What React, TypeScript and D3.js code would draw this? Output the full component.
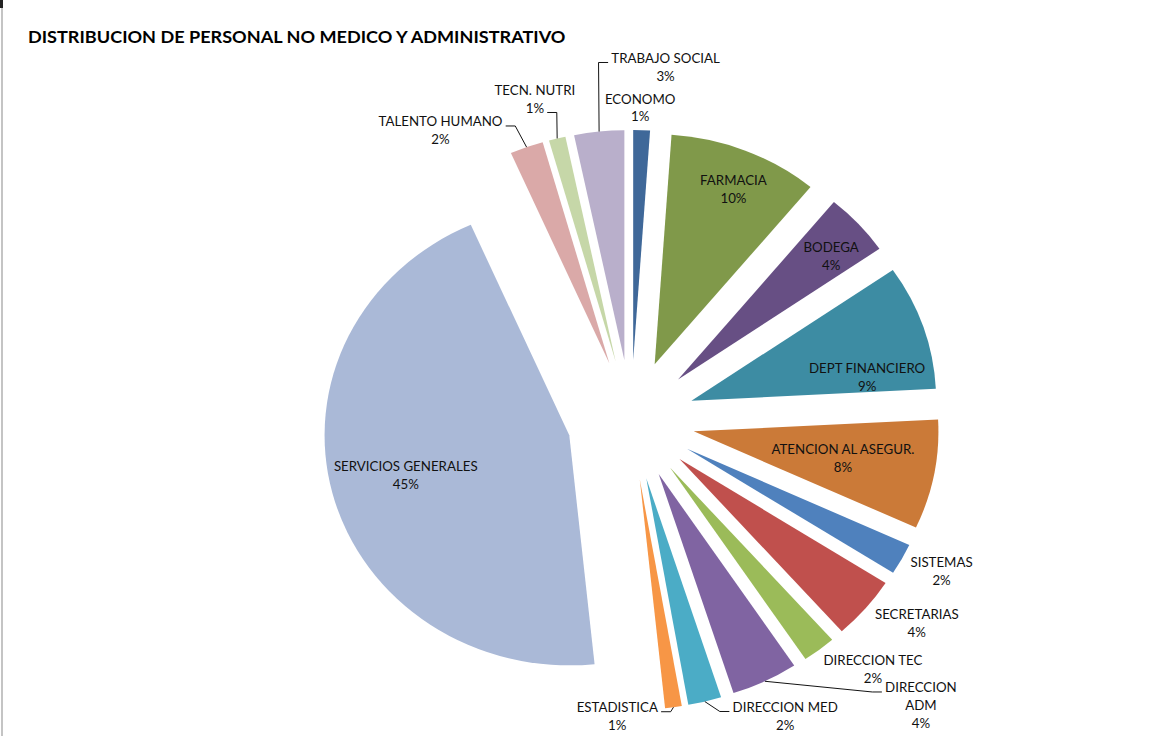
import React, { useRef, useEffect } from "react";
import * as d3 from "d3";

// personal counts per area, clockwise from 12 o'clock
const categories = [
  "ECONOMO",
  "FARMACIA",
  "BODEGA",
  "DEPT FINANCIERO",
  "ATENCION AL ASEGUR.",
  "SISTEMAS",
  "SECRETARIAS",
  "DIRECCION TEC",
  "DIRECCION ADM",
  "DIRECCION MED",
  "ESTADISTICA",
  "SERVICIOS GENERALES",
  "TALENTO HUMANO",
  "TECN. NUTRI",
  "TRABAJO SOCIAL",
];
const counts = [1, 9, 4, 8, 7, 2, 4, 2, 4, 2, 1, 41, 2, 1, 3];
const colors = [
  "#3F6899",
  "#80994A",
  "#674F84",
  "#3D8CA3",
  "#CB7A38",
  "#4F81BD",
  "#C0504D",
  "#9BBB59",
  "#8064A2",
  "#4BACC6",
  "#F79646",
  "#AAB9D7",
  "#DAA9A8",
  "#C6D7A8",
  "#B9AFCB",
];

const TITLE = "DISTRIBUCION DE PERSONAL NO MEDICO Y ADMINISTRATIVO";

// label placement: radius from pie centre and angle shift (deg) from the slice bisector
interface LabelPos {
  r: number;
  da: number;
  wrap?: boolean;
  leader?: { side: number; line: number };
}
const labelLayout: LabelPos[] = [
  { r: 312, da: -0.4 },
  { r: 250, da: 0.9 },
  { r: 249, da: 1.6 },
  { r: 226, da: 7.9 },
  { r: 203, da: 0.2 },
  { r: 329, da: -1.2 },
  { r: 337, da: -3.4 },
  { r: 338, da: -4.7 },
  { r: 395, da: -17.9, wrap: true, leader: { side: 1, line: 0 } },
  { r: 330, da: -12.2, leader: { side: 1, line: 0 } },
  { r: 297, da: 10.4, leader: { side: -1, line: 0 } },
  { r: 219, da: 0 },
  { r: 340, da: -12, leader: { side: -1, line: 0 } },
  { r: 333, da: -1.9, leader: { side: -1, line: 1 } },
  { r: 354, da: 11.2, leader: { side: 1, line: 0 } },
];

const W = 1167;
const H = 736;
const SX = 1.064; // the original picture is a little wider than tall
const FONT = "Lato, 'Open Sans', sans-serif";

const ExplodedPie = () => {
  const ref = useRef<SVGSVGElement | null>(null);

  useEffect(() => {
    document.body.style.margin = "0";
    if (!ref.current) return;
    const svg = d3.select(ref.current);
    svg.selectAll("*").remove();

    const cx = 631;
    const cy = 420;
    const radius = 230;
    const explode = 60;
    const lineH = 18;
    const total = d3.sum(counts);

    // frame
    svg.append("rect").attr("x", 1.5).attr("y", 0).attr("width", 1).attr("height", H).attr("fill", "#8a8a8a");
    svg.append("rect").attr("x", 0).attr("y", 0).attr("width", 3).attr("height", 8).attr("fill", "#222");

    svg
      .append("g")
      .attr("transform", `scale(${SX},1)`)
      .append("text")
      .attr("x", 28 / SX)
      .attr("y", 43)
      .attr("font-family", FONT)
      .attr("font-weight", "bold")
      .attr("font-size", 17)
      .attr("fill", "#000")
      .text(TITLE);

    const g = svg.append("g").attr("transform", `translate(${cx},${cy}) scale(${SX},1)`);

    const pie = d3
      .pie<number>()
      .sort(null)
      .value((d) => d)
      .startAngle(0)
      .endAngle(2 * Math.PI);
    const arcs = pie(counts);

    const arc = d3.arc<d3.PieArcDatum<number>>().innerRadius(0).outerRadius(radius);
    const polar = (r: number, a: number): [number, number] => [r * Math.sin(a), -r * Math.cos(a)];
    const mid = (d: d3.PieArcDatum<number>) => (d.startAngle + d.endAngle) / 2;

    g.selectAll("path.slice")
      .data(arcs)
      .enter()
      .append("path")
      .attr("class", "slice")
      .attr("d", arc)
      .attr("fill", (_d, i) => colors[i])
      .attr("transform", (d) => {
        const [x, y] = polar(explode, mid(d));
        return `translate(${x},${y})`;
      });

    arcs.forEach((d, i) => {
      const lay = labelLayout[i];
      const a = mid(d) + (lay.da * Math.PI) / 180;
      const [lx, ly] = polar(lay.r, a);
      const pct = Math.round((d.value / total) * 100) + "%";
      const lines = lay.wrap ? [...categories[i].split(" "), pct] : [categories[i], pct];
      const top = ly - ((lines.length - 1) * lineH) / 2;

      const t = g
        .append("text")
        .attr("font-family", FONT)
        .attr("font-size", 12.5)
        .attr("fill", "#111")
        .attr("text-anchor", "middle");
      const spans = lines.map((s, k) =>
        t
          .append("tspan")
          .attr("x", lx)
          .attr("y", top + k * lineH)
          .attr("dy", "0.35em")
          .text(s)
      );

      if (lay.leader) {
        const { side, line } = lay.leader;
        const w = (spans[line].node() as SVGTSpanElement).getComputedTextLength();
        const ty = top + line * lineH + 4;
        const tx = lx - side * (w / 2 + 3);
        const ex = tx - side * 9;
        const [sx, sy] = polar(explode + radius, mid(d));
        g.append("path")
          .attr("d", d3.line()([[sx, sy], [ex, ty], [tx, ty]]))
          .attr("fill", "none")
          .attr("stroke", "#000")
          .attr("stroke-width", 0.9);
      }
    });
  }, []);

  return <svg ref={ref} width={W} height={H} viewBox={`0 0 ${W} ${H}`} style={{ display: "block", background: "#fff" }} />;
};

export default function App() {
  return <ExplodedPie />;
}
